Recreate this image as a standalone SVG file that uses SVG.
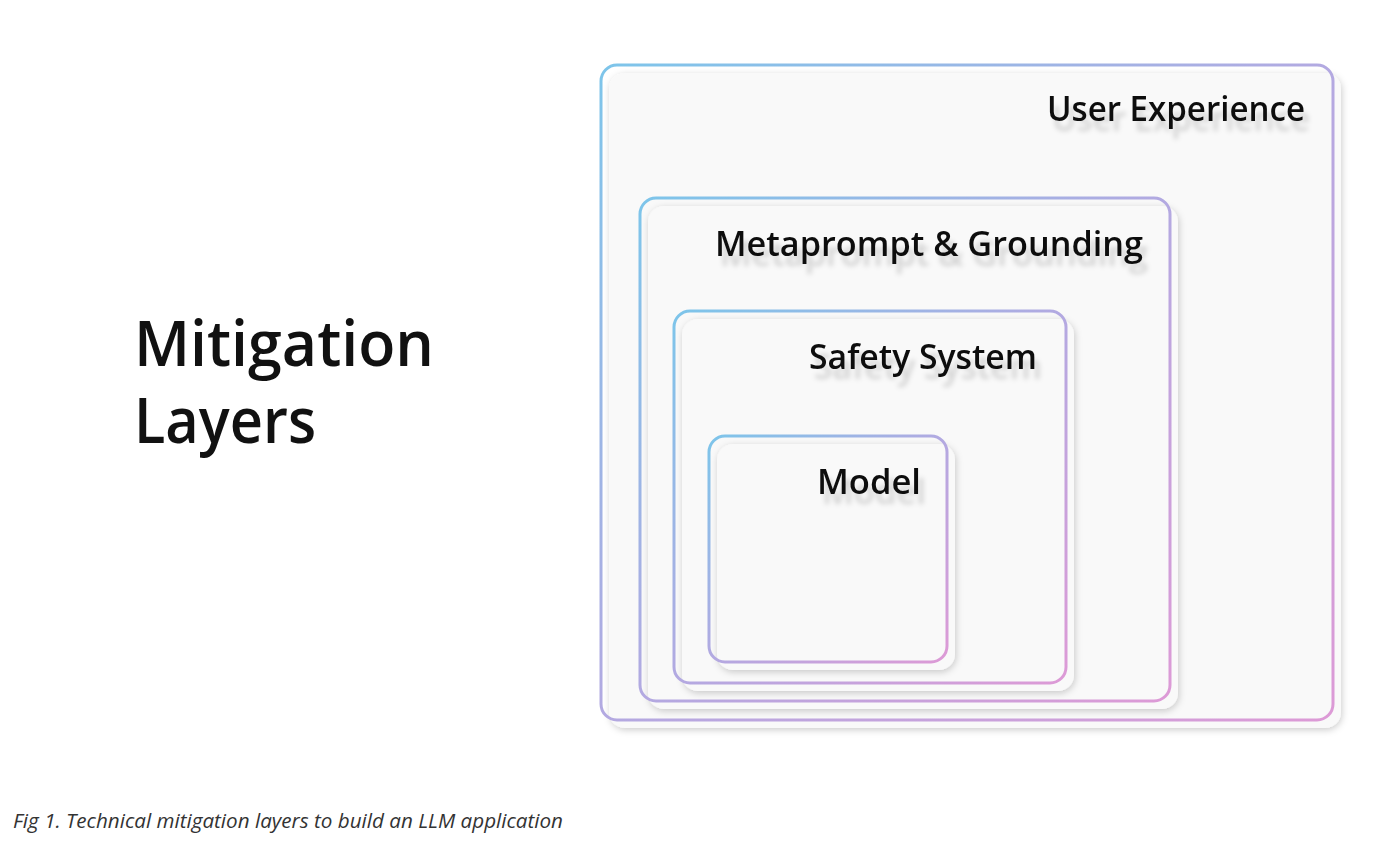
<svg xmlns="http://www.w3.org/2000/svg" width="1387" height="855" viewBox="0 0 1387 855">
<defs>
<linearGradient id="g" x1="0" y1="0" x2="1" y2="1">
<stop offset="0" stop-color="#7DC5EA"/>
<stop offset="0.5" stop-color="#B3A9E1"/>
<stop offset="1" stop-color="#DD9AD6"/>
</linearGradient>
<filter id="sh" x="-10%" y="-10%" width="120%" height="120%">
<feGaussianBlur in="SourceAlpha" stdDeviation="3.5"/>
<feOffset dx="1" dy="2" result="b"/>
<feFlood flood-color="#000" flood-opacity="0.2"/>
<feComposite in2="b" operator="in" result="s"/>
<feMerge><feMergeNode in="s"/><feMergeNode in="SourceGraphic"/></feMerge>
</filter>
<filter id="ts" x="-10%" y="-50%" width="120%" height="220%">
<feGaussianBlur in="SourceAlpha" stdDeviation="2.5"/>
<feOffset dx="5" dy="10" result="b"/>
<feFlood flood-color="#000" flood-opacity="0.16"/>
<feComposite in2="b" operator="in" result="s"/>
<feMerge><feMergeNode in="s"/><feMergeNode in="SourceGraphic"/></feMerge>
</filter>
</defs>
<style>
.fill{fill:#F9F9F9;filter:url(#sh)}
.bd{fill:none;stroke:url(#g);stroke-width:3}
.lbl{font-family:"Open Sans","Noto Sans",sans-serif;font-weight:600;fill:#111;text-anchor:end;filter:url(#ts)}
</style>
<rect width="1387" height="855" fill="#fff"/>
<g id="title">
<text x="134" y="366" font-family="'Open Sans','Noto Sans',sans-serif" font-weight="600" font-size="63" fill="#111" textLength="300" lengthAdjust="spacingAndGlyphs">Mitigation</text>
<text x="134" y="443" font-family="'Open Sans','Noto Sans',sans-serif" font-weight="600" font-size="63" fill="#111" textLength="182" lengthAdjust="spacingAndGlyphs">Layers</text>
</g>
<g id="user-experience">
<rect class="fill" x="609" y="73" width="732" height="655" rx="16"/>
<rect class="bd" x="601" y="65" width="732" height="655" rx="16"/>
<text class="lbl" x="1305" y="121" font-size="34" textLength="258" lengthAdjust="spacingAndGlyphs">User Experience</text>
</g>
<g id="metaprompt-grounding">
<rect class="fill" x="648" y="206" width="530" height="503" rx="16"/>
<rect class="bd" x="640" y="198" width="530" height="503" rx="16"/>
<text class="lbl" x="1143" y="256" font-size="34" textLength="428" lengthAdjust="spacingAndGlyphs">Metaprompt &amp; Grounding</text>
</g>
<g id="safety-system">
<rect class="fill" x="682" y="319" width="392" height="372" rx="16"/>
<rect class="bd" x="674" y="311" width="392" height="372" rx="16"/>
<text class="lbl" x="1037" y="369" font-size="34" textLength="228" lengthAdjust="spacingAndGlyphs">Safety System</text>
</g>
<g id="model">
<rect class="fill" x="717" y="444" width="238" height="226" rx="16"/>
<rect class="bd" x="709" y="436" width="238" height="226" rx="16"/>
<text class="lbl" x="921" y="494" font-size="34" textLength="104" lengthAdjust="spacingAndGlyphs">Model</text>
</g>
<g id="connectors"/>
<text x="13" y="828" font-family="'Open Sans','Noto Sans',sans-serif" font-style="italic" font-size="20" fill="#333" textLength="550" lengthAdjust="spacingAndGlyphs">Fig 1. Technical mitigation layers to build an LLM application</text>
</svg>
